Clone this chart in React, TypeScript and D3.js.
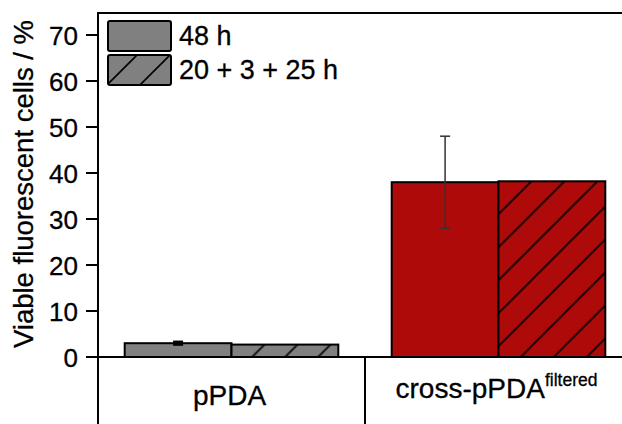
import React from "react";
import * as d3 from "d3";

const categories = ["pPDA", "cross-pPDA"];
const seriesNames = ["48 h", "20 + 3 + 25 h"];
const values48 = [3.0, 38.0];
const values2025 = [2.7, 38.2];
const errors48 = [0.3, 10.0];
const yTicks = [0, 10, 20, 30, 40, 50, 60, 70];
const categoryColors = ["#808080", "#AF0A0A"];

const W = 622;
const H = 424;
const FONT = "Arial, 'Liberation Sans', sans-serif";

export default function App() {
  const y = d3.scaleLinear().domain([0, 75]).range([357, 12]);
  const x0 = d3.scaleBand<string>().domain(categories).range([98, 632]).padding(0);
  const bw = x0.bandwidth();
  const x1 = d3
    .scaleBand<string>()
    .domain(seriesNames)
    .range([bw * 0.1, bw * 0.9])
    .padding(0);
  const y0 = y(0);
  const hatchStep = 33;

  const bars: any[] = [];
  categories.forEach((c, ci) => {
    [values48, values2025].forEach((vals, si) => {
      const xs = (x0(c) as number) + (x1(seriesNames[si]) as number);
      const top = y(vals[ci]);
      bars.push({ ci, si, x: xs, y: top, w: x1.bandwidth(), h: y0 - top, id: `h${ci}${si}` });
    });
  });

  const legendBoxes = [
    { x: 108, y: 21, w: 63, h: 30, label: seriesNames[0], hatched: false, ty: 45 },
    { x: 108, y: 55, w: 63, h: 30, label: seriesNames[1], hatched: true, ty: 78.5 },
  ];

  const hatchPath = `M0,${hatchStep} L${hatchStep},0 M${-hatchStep / 2},${hatchStep / 2} L${hatchStep / 2},${-hatchStep / 2} M${hatchStep / 2},${hatchStep * 1.5} L${hatchStep * 1.5},${hatchStep / 2}`;

  return (
    <svg width={W} height={H} style={{ position: "absolute", left: 0, top: 0, background: "#fff" }}>
      <defs>
        {bars
          .filter((b) => b.si === 1)
          .map((b) => (
            <pattern
              key={b.id}
              id={b.id}
              patternUnits="userSpaceOnUse"
              x={b.x}
              y={b.y}
              width={hatchStep}
              height={hatchStep}
            >
              <rect width={hatchStep} height={hatchStep} fill={categoryColors[b.ci]} />
              <path d={hatchPath} stroke="#000" strokeWidth={1.6} />
            </pattern>
          ))}
        <pattern id="legendHatch" patternUnits="userSpaceOnUse" x={104} y={55} width={hatchStep} height={hatchStep}>
          <rect width={hatchStep} height={hatchStep} fill={categoryColors[0]} />
          <path d={hatchPath} stroke="#000" strokeWidth={1.6} />
        </pattern>
      </defs>

      {/* bars */}
      {bars.map((b) => (
        <rect
          key={b.id}
          x={b.x}
          y={b.y}
          width={b.w}
          height={b.h}
          fill={b.si === 1 ? `url(#${b.id})` : categoryColors[b.ci]}
          stroke="#000"
          strokeWidth={2}
        />
      ))}

      {/* error bars */}
      {categories.map((c, ci) => {
        const cx = (x0(c) as number) + (x1(seriesNames[0]) as number) + x1.bandwidth() / 2;
        const hi = y(values48[ci] + errors48[ci]);
        const lo = y(values48[ci] - errors48[ci]);
        const col = ci === 0 ? "#000" : "#333";
        const sw = ci === 0 ? 2.5 : 1.5;
        return (
          <g key={c} stroke={col} strokeWidth={sw}>
            <line x1={cx} x2={cx} y1={hi} y2={lo} />
            <line x1={cx - 5} x2={cx + 5} y1={hi} y2={hi} />
            <line x1={cx - 5} x2={cx + 5} y1={lo} y2={lo} />
          </g>
        );
      })}

      {/* frame / axes */}
      <line x1={98} x2={W} y1={y(75) + 1} y2={y(75) + 1} stroke="#000" strokeWidth={2} />
      <line x1={98} x2={98} y1={y(75)} y2={H} stroke="#000" strokeWidth={2} />
      <line x1={86} x2={W} y1={y0} y2={y0} stroke="#000" strokeWidth={2} />
      <line x1={x0(categories[1]) as number} x2={x0(categories[1]) as number} y1={y0} y2={H} stroke="#000" strokeWidth={2} />

      <g fontFamily={FONT} fill="#000" stroke="#000" strokeWidth={0.3}>
        {yTicks.map((t) => (
          <g key={t}>
            <line x1={86} x2={98} y1={y(t)} y2={y(t)} stroke="#000" strokeWidth={2} />
            <text x={78} y={y(t)} dy="0.37em" textAnchor="end" fontSize={26}>
              {t}
            </text>
          </g>
        ))}

        <text transform={`translate(33,184) rotate(-90)`} textAnchor="middle" fontSize={27.5}>
          Viable fluorescent cells / %
        </text>

        {/* category labels */}
        <text x={(x0(categories[0]) as number) + bw / 2 - 2} y={405} textAnchor="middle" fontSize={28}>
          {categories[0]}
        </text>
        <text x={(x0(categories[1]) as number) + bw / 2 - 2} y={398} textAnchor="middle" fontSize={28}>
          {categories[1]}
          <tspan fontSize={17.5} dy={-12}>
            filtered
          </tspan>
        </text>

        {/* legend text */}
        {legendBoxes.map((l) => (
          <text key={l.label} x={179} y={l.ty} fontSize={27}>
            {l.label}
          </text>
        ))}
      </g>

      {/* legend boxes */}
      {legendBoxes.map((l) => (
        <rect
          key={l.label + "box"}
          x={l.x}
          y={l.y}
          width={l.w}
          height={l.h}
          rx={2}
          fill={l.hatched ? "url(#legendHatch)" : categoryColors[0]}
          stroke="#000"
          strokeWidth={2}
        />
      ))}
    </svg>
  );
}
